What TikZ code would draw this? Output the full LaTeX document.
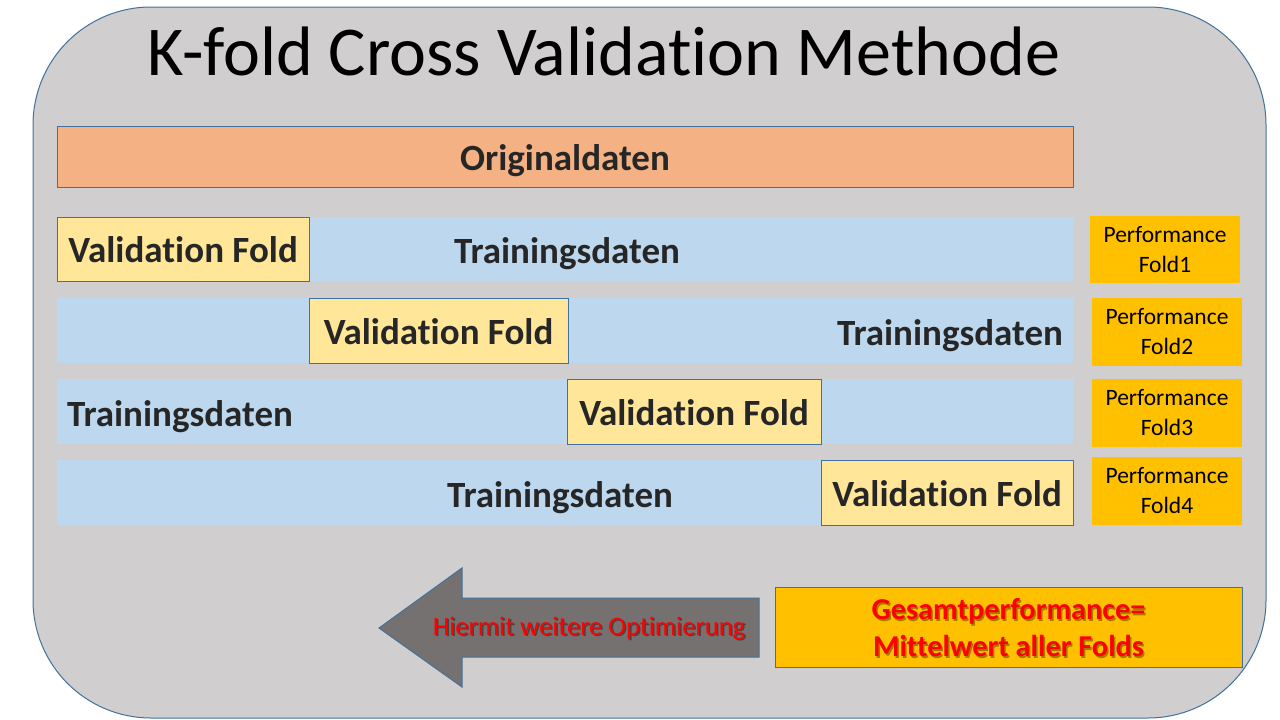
\documentclass[tikz,border=0pt]{standalone}
\usepackage{fontspec}
\setmainfont{Carlito}[RawFeature={-liga,-dlig,-calt,-clig}]
\usetikzlibrary{calc}
\definecolor{bgc}{HTML}{D0CECE}
\definecolor{edgec}{HTML}{41719C}
\definecolor{origc}{HTML}{F4B183}
\definecolor{trainc}{HTML}{BDD7EE}
\definecolor{valc}{HTML}{FFE699}
\definecolor{goldc}{HTML}{FFC000}
\definecolor{arrowc}{HTML}{767171}
\definecolor{darktxt}{HTML}{262626}
\definecolor{redtxt}{HTML}{FF0000}
\newcommand{\valtext}{Validat\kern0pt ion Fold}
\newcommand{\arrtxt}{Hiermit weitere Opt\kern0pt imierung}
\tikzset{
  boldlabel/.style={font=\fontsize{37}{44}\selectfont\bfseries, text=darktxt},
  origbox/.style={draw=edgec, line width=1, fill=origc, inner sep=0, text height=27, text depth=0, boldlabel},
  trainbar/.style={fill=trainc, inner sep=0},
  valbox/.style={draw=edgec, line width=1, fill=valc, inner sep=0, text height=27, text depth=0, boldlabel},
  trainlabel/.style={boldlabel, anchor=base, inner sep=0},
  perfbox/.style={fill=goldc, inner sep=0, minimum width=150, minimum height=68, align=center,
    font=\fontsize{23.5}{30}\selectfont, text=black},
  gesamtbox/.style={draw=edgec, line width=1, fill=goldc, inner sep=0, minimum width=467, minimum height=80},
  gesamttext/.style={align=center, font=\fontsize{30.3}{37}\selectfont\bfseries, inner sep=0},
  arrowtext/.style={font=\fontsize{26.6}{31}\selectfont, anchor=base, inner sep=0},
  arrowshape/.style={draw=edgec, line width=1, fill=arrowc, line join=miter},
}
\begin{document}
\begin{tikzpicture}[x=1pt,y=-1pt]
\useasboundingbox (0,0) rectangle (1280,720);
% background
\draw[draw=edgec, line width=1, fill=bgc, rounded corners=118] (33,7) rectangle (1266,718);
% title
\node[anchor=base, inner sep=0, font=\fontsize{70}{84}\selectfont, text=black] (title) at (604,75) {K-fold Cross Validat\kern0pt ion Methode};
% original data
\node[origbox, minimum width=1016, minimum height=61] (orig) at (565,156.5) {Originaldaten};
% row 1
\node[trainbar, minimum width=1016, minimum height=64] (bar1) at (565,249) {};
\node[valbox, minimum width=252, minimum height=64] (val1) at (183,249) {\valtext};
\node[trainlabel] (tr1) at (567,263) {Trainingsdaten};
\node[perfbox, minimum height=67] (perf1) at (1165,249.5) {Performance\\Fold1};
% row 2
\node[trainbar, minimum width=1016, minimum height=65] (bar2) at (565,330.5) {};
\node[valbox, minimum width=259, minimum height=65] (val2) at (438.5,330.5) {\valtext};
\node[trainlabel] (tr2) at (950,345) {Trainingsdaten};
\node[perfbox] (perf2) at (1167,332) {Performance\\Fold2};
% row 3
\node[trainbar, minimum width=1016, minimum height=65] (bar3) at (565,411.5) {};
\node[valbox, minimum width=254, minimum height=65] (val3) at (694,411.5) {\valtext};
\node[trainlabel] (tr3) at (180,426) {Trainingsdaten};
\node[perfbox] (perf3) at (1167,413) {Performance\\Fold3};
% row 4
\node[trainbar, minimum width=1016, minimum height=65] (bar4) at (565,492.5) {};
\node[valbox, minimum width=252, minimum height=65] (val4) at (947,492.5) {\valtext};
\node[trainlabel] (tr4) at (560,507) {Trainingsdaten};
\node[perfbox] (perf4) at (1167,491) {Performance\\Fold4};
% overall performance
\node[gesamtbox] (ges) at (1008.5,627) {};
\node[gesamttext, text=black, opacity=0.35] (gesshadow) at ($(ges.center)+(1.5,2.5)$) {Gesamtperformance=\\Mittelwert aller Folds};
\node[gesamttext, text=redtxt] (gestext) at ($(ges.center)+(0,1)$) {Gesamtperformance=\\Mittelwert aller Folds};
% arrow
\coordinate (atip) at (379,628);
\coordinate (aheadtop) at (462,568);
\coordinate (ashafttop) at (462,598);
\coordinate (aendtop) at (759,598);
\coordinate (aendbot) at (759,657);
\coordinate (ashaftbot) at (462,657);
\coordinate (aheadbot) at (462,687);
\draw[arrowshape] (atip) -- (aheadtop) -- (ashafttop) -- (aendtop) -- (aendbot) -- (ashaftbot) -- (aheadbot) -- cycle;
\node[arrowtext, text=black, opacity=0.4] (arrshadow) at (590.5,636.5) {\arrtxt};
\node[arrowtext, text=redtxt] (arrtext) at (589,635) {\arrtxt};
\end{tikzpicture}
\end{document}
